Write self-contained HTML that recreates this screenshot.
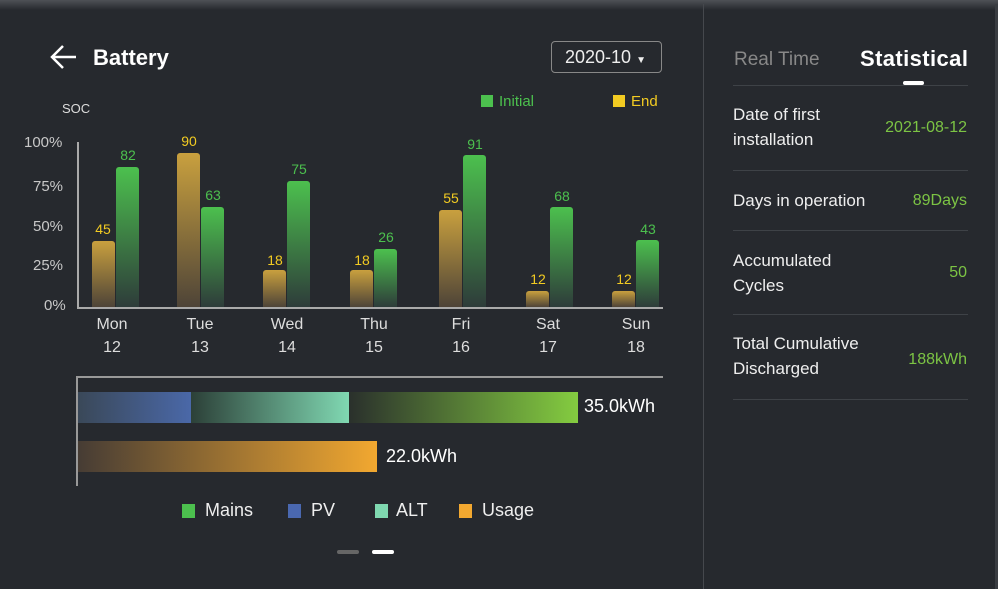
<!DOCTYPE html><html><head><style>
body{margin:0;width:998px;height:589px;background:#26292e;font-family:"Liberation Sans",sans-serif;position:relative;overflow:hidden;color:#fff}
.a{position:absolute}
.t{position:absolute;font-size:15px;color:#c8c8c8}
.e{background:linear-gradient(#c9a03e,#4e4438);border-radius:3px 3px 0 0;position:absolute;width:23px}
.i{background:linear-gradient(#4cc04e,#2e3c3a);border-radius:3px 3px 0 0;position:absolute;width:23px}
.v{position:absolute;font-size:14px;width:40px;text-align:center}
.d{position:absolute;font-size:16px;color:#ddd;text-align:center;width:60px;line-height:23px}
.r{position:absolute;left:733px;font-size:17px;color:#eee;line-height:25px}
.g{position:absolute;right:31px;font-size:16px;color:#7cc444}
.hl{position:absolute;left:733px;width:235px;height:1px;background:#3e4247}
</style></head><body>
<div class="a" style="left:0;top:0;width:998px;height:10px;background:linear-gradient(#4e5156,#26292e)"></div>
<div class="a" style="left:703px;top:4px;width:1px;height:585px;background:#45484d"></div>
<div class="a" style="left:995px;top:4px;width:3px;height:585px;background:#3a3d42"></div>
<svg class="a" style="left:48px;top:43px" width="30" height="28"><path d="M4 14H28M15 3L4 14L15 25" stroke="#fff" stroke-width="2.5" fill="none"/></svg>
<div class="a" style="left:93px;top:45px;font-size:22px;font-weight:bold">Battery</div>
<div class="a" style="left:551px;top:41px;width:109px;height:30px;border:1px solid #888;border-radius:4px;font-size:18px;line-height:30px;text-indent:13px;color:#eee">2020-10 <span style="font-size:10px">▼</span></div>
<div class="a" style="left:62px;top:101px;font-size:13px;color:#ddd">SOC</div>
<div class="a" style="left:481px;top:95px;width:12px;height:12px;background:#4cc04e"></div>
<div class="a" style="left:499px;top:93px;font-size:15px;color:#4cc04e">Initial</div>
<div class="a" style="left:613px;top:95px;width:12px;height:12px;background:#f2cb22"></div>
<div class="a" style="left:631px;top:93px;font-size:15px;color:#f2cb22">End</div>
<div class="t" style="left:24px;top:134px">100%</div>
<div class="t" style="left:33px;top:178px">75%</div>
<div class="t" style="left:33px;top:218px">50%</div>
<div class="t" style="left:33px;top:257px">25%</div>
<div class="t" style="left:44px;top:297px">0%</div>
<div class="a" style="left:77px;top:142px;width:2px;height:166px;background:#aaa"></div>
<div class="a" style="left:77px;top:307px;width:586px;height:2px;background:#aaa"></div>
<div class="e" style="left:92px;top:241px;height:66px"></div><div class="i" style="left:116px;top:167px;height:140px"></div>
<div class="e" style="left:177px;top:153px;height:154px"></div><div class="i" style="left:201px;top:207px;height:100px"></div>
<div class="e" style="left:263px;top:270px;height:37px"></div><div class="i" style="left:287px;top:181px;height:126px"></div>
<div class="e" style="left:350px;top:270px;height:37px"></div><div class="i" style="left:374px;top:249px;height:58px"></div>
<div class="e" style="left:439px;top:210px;height:97px"></div><div class="i" style="left:463px;top:155px;height:152px"></div>
<div class="e" style="left:526px;top:291px;height:16px"></div><div class="i" style="left:550px;top:207px;height:100px"></div>
<div class="e" style="left:612px;top:291px;height:16px"></div><div class="i" style="left:636px;top:240px;height:67px"></div>
<div style="color:#f2cb22">
<div class="v" style="left:83px;top:221px">45</div><div class="v" style="left:169px;top:133px">90</div><div class="v" style="left:255px;top:252px">18</div><div class="v" style="left:342px;top:252px">18</div><div class="v" style="left:431px;top:190px">55</div><div class="v" style="left:518px;top:271px">12</div><div class="v" style="left:604px;top:271px">12</div></div>
<div style="color:#4cc04e">
<div class="v" style="left:108px;top:147px">82</div><div class="v" style="left:193px;top:187px">63</div><div class="v" style="left:279px;top:161px">75</div><div class="v" style="left:366px;top:229px">26</div><div class="v" style="left:455px;top:136px">91</div><div class="v" style="left:542px;top:188px">68</div><div class="v" style="left:628px;top:221px">43</div></div>
<div class="d" style="left:82px;top:313px">Mon<br>12</div><div class="d" style="left:170px;top:313px">Tue<br>13</div><div class="d" style="left:257px;top:313px">Wed<br>14</div><div class="d" style="left:344px;top:313px">Thu<br>15</div><div class="d" style="left:431px;top:313px">Fri<br>16</div><div class="d" style="left:518px;top:313px">Sat<br>17</div><div class="d" style="left:606px;top:313px">Sun<br>18</div>
<div class="a" style="left:76px;top:376px;width:587px;height:2px;background:#999"></div>
<div class="a" style="left:76px;top:376px;width:2px;height:110px;background:#999"></div>
<div class="a" style="left:78px;top:392px;width:113px;height:31px;background:linear-gradient(90deg,#3a4858,#4a68a8)"></div>
<div class="a" style="left:191px;top:392px;width:158px;height:31px;background:linear-gradient(90deg,#2c4038,#80d8b2)"></div>
<div class="a" style="left:349px;top:392px;width:229px;height:31px;background:linear-gradient(90deg,#2a302c,#84cc40)"></div>
<div class="a" style="left:584px;top:396px;font-size:18px">35.0kWh</div>
<div class="a" style="left:78px;top:441px;width:299px;height:31px;background:linear-gradient(90deg,#463c34,#f2a830)"></div>
<div class="a" style="left:386px;top:446px;font-size:18px">22.0kWh</div>
<div style="font-size:18px;color:#eee">
<div class="a" style="left:182px;top:504px;width:13px;height:14px;background:#4cc04e"></div><div class="a" style="left:205px;top:500px">Mains</div>
<div class="a" style="left:288px;top:504px;width:13px;height:14px;background:#4a68b0"></div><div class="a" style="left:311px;top:500px">PV</div>
<div class="a" style="left:375px;top:504px;width:13px;height:14px;background:#7fd8b0"></div><div class="a" style="left:396px;top:500px">ALT</div>
<div class="a" style="left:459px;top:504px;width:13px;height:14px;background:#f2a830"></div><div class="a" style="left:482px;top:500px">Usage</div></div>
<div class="a" style="left:337px;top:550px;width:22px;height:4px;background:#666;border-radius:2px"></div>
<div class="a" style="left:372px;top:550px;width:22px;height:4px;background:#fff;border-radius:2px"></div>
<div class="a" style="left:734px;top:49px;font-size:19px;color:#888">Real Time</div>
<div class="a" style="left:860px;top:46px;font-size:22px;font-weight:bold;letter-spacing:0.4px">Statistical</div>
<div class="a" style="left:903px;top:81px;width:21px;height:4px;background:#fff;border-radius:2px"></div>
<div class="hl" style="top:85px"></div><div class="hl" style="top:170px"></div><div class="hl" style="top:230px"></div><div class="hl" style="top:314px"></div><div class="hl" style="top:399px"></div>
<div class="r" style="top:102px">Date of first<br>installation</div><div class="g" style="top:119px">2021-08-12</div>
<div class="r" style="top:188px">Days in operation</div><div class="g" style="top:192px">89Days</div>
<div class="r" style="top:248px">Accumulated<br>Cycles</div><div class="g" style="top:264px">50</div>
<div class="r" style="top:331px">Total Cumulative<br>Discharged</div><div class="g" style="top:351px">188kWh</div>
</body></html>
